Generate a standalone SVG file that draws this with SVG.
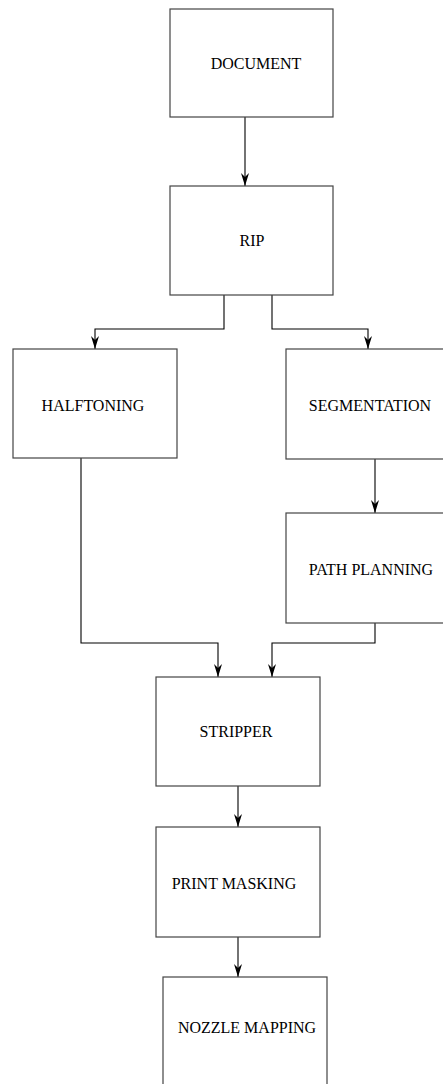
<svg xmlns="http://www.w3.org/2000/svg" width="443" height="1084" viewBox="0 0 443 1084">
<style>
.box{fill:#fff;stroke:#444;stroke-width:1.2}
.lbl{font-family:"Liberation Serif","Times New Roman",serif;font-size:16px;fill:#000;text-anchor:middle}
.con{fill:none;stroke:#000;stroke-width:1.1}
</style>
<defs>
<marker id="ah" markerUnits="userSpaceOnUse" viewBox="0 0 13 8" refX="13" refY="4" markerWidth="13" markerHeight="8" orient="auto">
<path d="M0,0 L13,4 L0,8 L4,4 Z" fill="#000"/>
</marker>
</defs>
<rect width="443" height="1084" fill="#fff"/>
<g id="connectors">
<path class="con" d="M245,117 V186" marker-end="url(#ah)"/>
<path class="con" d="M224,295 V329 H95 V349" marker-end="url(#ah)"/>
<path class="con" d="M272,295 V329 H368 V349" marker-end="url(#ah)"/>
<path class="con" d="M375,459 V513" marker-end="url(#ah)"/>
<path class="con" d="M81,458 V643 H218 V677" marker-end="url(#ah)"/>
<path class="con" d="M375,623 V643 H272 V677" marker-end="url(#ah)"/>
<path class="con" d="M238,786 V827" marker-end="url(#ah)"/>
<path class="con" d="M238,937 V977" marker-end="url(#ah)"/>
</g>
<g id="document"><rect class="box" x="170" y="9" width="163" height="108"/><text class="lbl" x="256" y="69">DOCUMENT</text></g>
<g id="rip"><rect class="box" x="170" y="186" width="163" height="109"/><text class="lbl" x="252" y="246">RIP</text></g>
<g id="halftoning"><rect class="box" x="13" y="349" width="164" height="109"/><text class="lbl" x="93" y="411">HALFTONING</text></g>
<g id="segmentation"><rect class="box" x="286" y="349" width="164" height="110"/><text class="lbl" x="370" y="411">SEGMENTATION</text></g>
<g id="path-planning"><rect class="box" x="286" y="513" width="164" height="110"/><text class="lbl" x="371" y="575">PATH PLANNING</text></g>
<g id="stripper"><rect class="box" x="156" y="677" width="164" height="109"/><text class="lbl" x="236" y="737">STRIPPER</text></g>
<g id="print-masking"><rect class="box" x="156" y="827" width="164" height="110"/><text class="lbl" x="234" y="889">PRINT MASKING</text></g>
<g id="nozzle-mapping"><rect class="box" x="163" y="977" width="164" height="110"/><text class="lbl" x="247" y="1033">NOZZLE MAPPING</text></g>
</svg>
